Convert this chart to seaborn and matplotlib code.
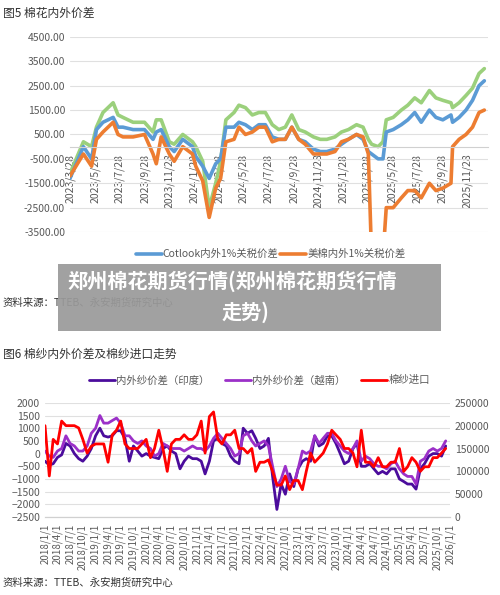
import numpy as np
import pandas as pd
import matplotlib
matplotlib.use("Agg")
import matplotlib.pyplot as plt
from matplotlib.patches import Rectangle
import seaborn as sns

sns.set_style("white")
plt.rcParams['font.family'] = ['Noto Sans CJK SC', 'DejaVu Sans']

# ---- chart 5 data ----
dates5 = ["2023-03-28", "2023-04-30", "2023-05-20", "2023-06-01", "2023-06-17", "2023-07-12",
          "2023-07-24", "2023-08-05", "2023-08-30", "2023-09-27", "2023-10-18", "2023-10-26",
          "2023-11-07", "2023-11-27", "2023-12-09", "2023-12-30", "2024-01-23", "2024-01-31",
          "2024-02-17", "2024-03-04", "2024-03-20", "2024-04-01", "2024-04-14", "2024-05-04",
          "2024-05-16", "2024-06-01", "2024-06-18", "2024-07-04", "2024-07-20", "2024-08-06",
          "2024-08-22", "2024-09-07", "2024-09-23", "2024-10-10", "2024-10-26", "2024-11-15",
          "2024-12-02", "2024-12-18", "2025-01-07", "2025-01-23", "2025-02-09", "2025-03-01",
          "2025-03-17", "2025-03-30", "2025-04-07", "2025-04-23", "2025-05-05", "2025-05-13",
          "2025-05-30", "2025-06-19", "2025-07-05", "2025-07-22", "2025-08-07", "2025-08-27",
          "2025-09-12", "2025-09-29", "2025-10-19", "2025-10-23", "2025-11-08", "2025-11-25",
          "2025-12-11", "2025-12-27", "2026-01-09"]
cotlook = [-1300, 0, -500, 700, 1000, 1200, 800, 800, 700, 700, 300, 600,
           700, 0, -200, 300, 0, -400, -800, -1300, -700, -500, 800, 800,
           1000, 900, 700, 900, 900, 400, 300, 300, 800, 300, 200, -100,
           -200, -200, -100, 100, 300, 500, 300, -200, -300, -500, -500, 600,
           700, 900, 1100, 1400, 1000, 1500, 1200, 1100, 1300, 1000, 1200, 1500,
           1900, 2500, 2700]
us_cotton = [-1200, -300, -800, 300, 600, 1000, 500, 400, 400, 500, -300, -700,
             400, -300, -600, 0, -300, -800, -1400, -2900, -1700, -1300, 200, 300,
             800, 500, 600, 800, 800, 200, 300, 300, 800, 300, 100, -300,
             -300, -300, -200, 200, 300, 500, 400, -300, -4500, -4500, -4500, -2500,
             -2500, -2100, -1800, -1800, -2100, -1500, -1800, -1700, -1500, 0, 300, 500,
             800, 1400, 1500]
third = [-1100, 200, 0, 800, 1400, 1800, 1300, 1200, 1000, 1000, 600, 1100,
         1100, 200, 100, 500, 200, 0, -600, -2500, -1500, -600, 1100, 1400,
         1700, 1600, 1300, 1400, 1400, 900, 700, 800, 1300, 700, 600, 400,
         300, 300, 400, 600, 700, 900, 800, 300, 100, 0, 200, 1100,
         1200, 1500, 1700, 2000, 1800, 2300, 2000, 1900, 1800, 1600, 1800, 2100,
         2400, 3000, 3200]
ticks5 = ["2023-03-28", "2023-05-28", "2023-07-28", "2023-09-28", "2023-11-28", "2024-01-28",
          "2024-03-28", "2024-05-28", "2024-07-28", "2024-09-28", "2024-11-28", "2025-01-28",
          "2025-03-28", "2025-05-28", "2025-07-28", "2025-09-28", "2025-11-28"]

# ---- chart 6 data (monthly, 2018/1 .. 2025/12) ----
india = [-300, -450, -400, -150, -50, 400, 300, 0, -200, -300, -100, 200,
         700, 1000, 700, 650, 700, 900, 900, 600, -300, 300, 100, -100,
         0, -100, -150, -200, 200, 300, 100, 0, -600, -300, -100, -200,
         -200, -300, -800, -300, 500, 600, 400, 300, -100, -300, -400, 1000,
         800, 900, 600, 200, 300, 600, -900, -2200, -1200, -1600, -800, -1300,
         -600, -300, -200, -300, 700, 300, 400, 700, 700, 400, 0, -400,
         -300, 200, 400, -500, -500, -400, -600, -800, -700, -800, -600, -600,
         -1000, -1100, -1200, -1200, -1400, -600, -400, -100, 0, 0, -100, 300]
vietnam = [100, -100, -150, 100, 200, 700, 400, 300, 100, 100, 300, 800,
           1000, 1500, 1200, 1200, 1300, 1400, 1200, 700, 700, 500, 400, 500,
           300, 200, -100, 0, 400, 300, 200, 200, 200, 100, 200, 300,
           200, 200, 100, 300, 600, 800, 600, 400, 200, -100, 0, 700,
           800, 500, 300, 400, 500, 300, -500, -1300, -1000, -500, -1100, -1200,
           -600, 100, 0, 100, 700, 400, 600, 800, 800, 500, 300, 100,
           0, 200, 500, -300, -100, -200, -400, -500, -500, -600, -400, -300,
           -600, -800, -900, -900, -1200, -300, -200, 100, 200, 100, 200, 500]
yarn_import = [200000, 90000, 170000, 160000, 210000, 200000, 200000, 200000, 195000, 170000, 140000, 155000,
               160000, 160000, 160000, 120000, 180000, 190000, 210000, 160000, 150000, 150000, 150000, 160000,
               170000, 130000, 150000, 190000, 150000, 100000, 160000, 170000, 170000, 180000, 170000, 170000,
               180000, 210000, 140000, 220000, 230000, 170000, 160000, 180000, 180000, 190000, 150000, 150000,
               140000, 150000, 100000, 120000, 120000, 125000, 100000, 70000, 70000, 90000, 60000, 80000,
               80000, 60000, 100000, 140000, 120000, 130000, 140000, 160000, 190000, 180000, 170000, 150000,
               150000, 140000, 110000, 190000, 120000, 120000, 110000, 130000, 110000, 110000, 120000, 120000,
               150000, 100000, 110000, 130000, 120000, 100000, 110000, 110000, 130000, 130000, 140000, 150000]
months6 = pd.date_range("2018-01-01", periods=len(india), freq="MS")
ticks6 = pd.date_range("2018-01-01", "2026-01-01", freq="3MS")

gray = "#595959"
fig = plt.figure(figsize=(5, 5.95), dpi=100)

# ---------------- chart 5 ----------------
fig.text(0.006, 0.988, "图5 棉花内外价差", fontsize=8.5, color="#333333", va="top")
ax = fig.add_axes([0.14, 0.610, 0.836, 0.328])
d5 = pd.to_datetime(dates5)
sns.lineplot(x=d5, y=third, color="#9BD07C", lw=2.6, ax=ax)
sns.lineplot(x=d5, y=cotlook, color="#5B9BD5", lw=2.6, ax=ax, label="Cotlook内外1%关税价差")
sns.lineplot(x=d5, y=us_cotton, color="#ED7D31", lw=2.6, ax=ax, label="美棉内外1%关税价差")
ax.set_ylim(-3500, 4500)
ax.set_xlim(pd.Timestamp("2023-03-28"), pd.Timestamp("2026-01-18"))
ax.set_yticks(np.arange(-3500, 4501, 1000))
ax.set_yticklabels([f"{v:.2f}" for v in np.arange(-3500, 4501, 1000)], fontsize=7.5, color=gray)
ax.grid(axis="y", color="#e0e0e0", lw=0.8)
for s in ["top", "right", "left"]:
    ax.spines[s].set_visible(False)
ax.spines["bottom"].set_position(("data", 0))
ax.spines["bottom"].set_color("#d0d0d0")
ax.set_xticks(pd.to_datetime(ticks5))
ax.set_xticklabels([f"{t.year}/{t.month}/{t.day}" for t in pd.to_datetime(ticks5)],
                   rotation=90, fontsize=7.5, color=gray)
ax.set_xlabel("")
ax.tick_params(axis="x", length=3, color="#d0d0d0", pad=2)
ax.tick_params(axis="y", length=0)
ax.legend(loc="upper center", bbox_to_anchor=(0.48, -0.04), ncol=2, frameon=False,
          fontsize=7.5, labelcolor=gray, handlelength=2.5, columnspacing=0.2, handletextpad=0.1)
fig.text(0.006, 0.492, "资料来源：TTEB、永安期货研究中心", fontsize=7.5, color="#333333", va="center")

# ---------------- chart 6 ----------------
fig.text(0.006, 0.415, "图6 棉纱内外价差及棉纱进口走势", fontsize=8.5, color="#333333", va="top")
ax2 = fig.add_axes([0.09, 0.131, 0.81, 0.192])
ax3 = ax2.twinx()
sns.lineplot(x=months6, y=india, color="#4B0C9C", lw=2, ax=ax2, label="内外纱价差（印度）", legend=False)
sns.lineplot(x=months6, y=vietnam, color="#9B30C8", lw=2, ax=ax2, label="内外纱价差（越南）", legend=False)
sns.lineplot(x=months6, y=yarn_import, color="#FF0000", lw=2, ax=ax3, label="棉纱进口", legend=False)
ax2.set_ylim(-2500, 2000)
ax3.set_ylim(0, 250000)
ax2.set_xlim(pd.Timestamp("2018-01-01"), pd.Timestamp("2026-01-01"))
ax2.set_yticks(np.arange(-2500, 2001, 500))
ax3.set_yticks(np.arange(0, 250001, 50000))
ax2.tick_params(axis="y", labelsize=7.5, labelcolor=gray, length=0)
ax3.tick_params(axis="y", labelsize=7.5, labelcolor=gray, length=0)
ax2.grid(axis="y", color="#e0e0e0", lw=0.8)
for a in (ax2, ax3):
    for s in ["top", "right", "left"]:
        a.spines[s].set_visible(False)
    a.spines["bottom"].set_color("#d0d0d0")
    a.set_xlabel("")
ax2.set_xticks(ticks6)
ax2.set_xticklabels([f"{t.year}/{t.month}/{t.day}" for t in ticks6], rotation=90, fontsize=7, color=gray)
ax2.tick_params(axis="x", length=3, color="#d0d0d0", pad=2)
h1, l1 = ax2.get_legend_handles_labels()
h2, l2 = ax3.get_legend_handles_labels()
ax2.legend(h1 + h2, l1 + l2, loc="lower center", bbox_to_anchor=(0.53, 1.07), ncol=3, frameon=False,
           fontsize=7.5, labelcolor=gray, handlelength=2.5, columnspacing=1.5, handletextpad=0.1)
fig.text(0.006, 0.012, "资料来源：TTEB、永安期货研究中心", fontsize=7.5, color="#333333", va="bottom")

# ---------------- overlay banner ----------------
fig.patches.append(Rectangle((0.116, 1 - 331 / 595), 0.766, 67 / 595, transform=fig.transFigure,
                             facecolor="#9a9a9a", alpha=0.93, edgecolor="none", zorder=10))
fig.text(0.134, 1 - 281 / 595, "郑州棉花期货行情(郑州棉花期货行情", fontsize=14.5, color="white",
         weight="bold", va="center", zorder=11)
fig.text(0.49, 1 - 312 / 595, "走势)", fontsize=14.5, color="white", weight="bold",
         va="center", ha="center", zorder=11)

fig.savefig("out.png", dpi=100)
